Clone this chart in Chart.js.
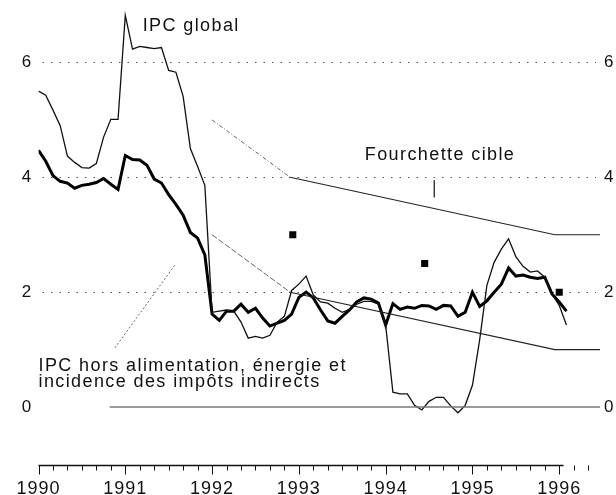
<!DOCTYPE html>
<html>
<head>
<meta charset="utf-8">
<script src="https://cdn.jsdelivr.net/npm/chart.js@4"></script>
<style>
  html, body { margin: 0; padding: 0; background: #fff; }
  canvas { display: block; }
</style>
</head>
<body>
<canvas id="chart" width="616" height="495"></canvas>
<script>
// Données mensuelles, de janvier 1990 à février 1996
const firstYear = 1990;
const ipcGlobal = [
  5.50, 5.43, 5.17, 4.90, 4.37, 4.26, 4.17, 4.16, 4.24, 4.70, 5.01, 5.01,
  6.82, 6.23, 6.28, 6.26, 6.24, 6.26, 5.86, 5.83, 5.41, 4.50, 4.19, 3.86,
  1.65, 1.67, 1.69, 1.67, 1.48, 1.20, 1.23, 1.20, 1.25, 1.48, 1.58, 2.03,
  2.14, 2.28, 1.95, 1.83, 1.81, 1.72, 1.65, 1.70, 1.79, 1.84, 1.84, 1.79,
  1.43, 0.26, 0.23, 0.23, 0.03, -0.05, 0.10, 0.17, 0.17, 0.02, -0.10, 0.03,
  0.38, 1.17, 2.12, 2.52, 2.75, 2.93, 2.62, 2.45, 2.35, 2.37, 2.26, 1.97,
  1.77, 1.43
];
const ipcCore = [
  4.47, 4.28, 4.03, 3.93, 3.90, 3.81, 3.86, 3.88, 3.91, 3.98, 3.88, 3.79,
  4.38, 4.31, 4.30, 4.21, 3.97, 3.90, 3.70, 3.53, 3.34, 3.04, 2.94, 2.65,
  1.62, 1.51, 1.67, 1.67, 1.79, 1.65, 1.72, 1.55, 1.41, 1.46, 1.51, 1.62,
  1.91, 2.00, 1.90, 1.69, 1.50, 1.46, 1.58, 1.69, 1.83, 1.90, 1.88, 1.81,
  1.43, 1.80, 1.70, 1.74, 1.72, 1.77, 1.76, 1.70, 1.77, 1.76, 1.58, 1.65,
  2.00, 1.75, 1.85, 2.00, 2.14, 2.42, 2.28, 2.30, 2.26, 2.24, 2.26, 1.97,
  1.83, 1.67
];

// Fourchette cible et points médians
const bandYears = [1992.0, 1992.9, 1995.95, 1996.47];
const bandUpper = [5, 4, 3, 3];
const bandLower = [3, 2, 1, 1];
const targetYears = [1992.93, 1994.45, 1996.0];
const targetMid = [3, 2.5, 2];

// Axes
const yTicks = [0, 2, 4, 6];
const xYears = [1990, 1991, 1992, 1993, 1994, 1995, 1996];
const xMin = 1990, xMax = 1996.47;

// Lignes de renvoi des étiquettes
const zeroLine = [[1990.82, 0], [1996.47, 0]];
const corePointer = [[1990.88, 1.03], [1991.57, 2.47]];
const bandPointer = [[1994.56, 3.95], [1994.56, 3.65]];

const monthly = vals => vals.map((v, i) => ({ x: firstYear + i / 12, y: v }));
const pairs = arr => arr.map(p => ({ x: p[0], y: p[1] }));
const band = (vals, from, to) =>
  bandYears.slice(from, to).map((t, i) => ({ x: t, y: vals[from + i] }));

const FONT = '"Liberation Sans", Arial, Helvetica, sans-serif';

function txt(ctx, s, px, py, size, align) {
  ctx.font = size + 'px ' + FONT;
  ctx.textAlign = align || 'left';
  ctx.fillText(s, px, py);
}

const decor = {
  id: 'decor',
  beforeDatasetsDraw(chart) {
    const { ctx, chartArea: a } = chart;
    const x = chart.scales.x, y = chart.scales.y;
    ctx.save();
    // grille pointillée
    ctx.strokeStyle = '#555';
    ctx.lineWidth = 1;
    ctx.setLineDash([1.5, 7]);
    yTicks.filter(v => v > 0).forEach(v => {
      const py = Math.round(y.getPixelForValue(v)) + 0.5;
      ctx.beginPath();
      ctx.moveTo(a.left + 4, py);
      ctx.lineTo(a.right - 4, py);
      ctx.stroke();
    });
    ctx.setLineDash([]);
    // axe du bas
    const by = Math.round(y.getPixelForValue(-1)) + 0.5;
    ctx.strokeStyle = '#111';
    ctx.lineWidth = 1.5;
    ctx.beginPath();
    ctx.moveTo(a.left, by);
    ctx.lineTo(x.getPixelForValue(1996.05), by);
    ctx.stroke();
    ctx.lineWidth = 1;
    for (let m = 0; m <= 76; m += 2) {
      const px = Math.round(x.getPixelForValue(firstYear + m / 12)) + 0.5;
      const len = m % 12 === 0 ? 9 : 5;
      ctx.beginPath();
      ctx.moveTo(px, by);
      ctx.lineTo(px, by + len);
      ctx.stroke();
    }
    ctx.restore();
  },
  afterDatasetsDraw(chart) {
    const { ctx, chartArea: a } = chart;
    const x = chart.scales.x, y = chart.scales.y;
    ctx.save();
    ctx.fillStyle = '#111';
    if ('letterSpacing' in ctx) ctx.letterSpacing = '0px';
    // graduations verticales, des deux côtés
    ctx.textBaseline = 'middle';
    yTicks.forEach(v => {
      const py = y.getPixelForValue(v);
      txt(ctx, String(v), a.left - 12, py, 17, 'center');
      txt(ctx, String(v), a.right + 4, py, 17, 'left');
    });
    // années
    ctx.textBaseline = 'alphabetic';
    if ('letterSpacing' in ctx) ctx.letterSpacing = '1px';
    xYears.forEach(t => {
      txt(ctx, String(t), x.getPixelForValue(t), 494, 18, 'center');
    });
    // étiquettes
    if ('letterSpacing' in ctx) ctx.letterSpacing = '1.4px';
    txt(ctx, 'IPC global', x.getPixelForValue(1991.2), y.getPixelForValue(6.54), 18);
    txt(ctx, 'Fourchette cible', x.getPixelForValue(1993.76), y.getPixelForValue(4.31), 18);
    txt(ctx, 'IPC hors alimentation, énergie et', x.getPixelForValue(1990.0), y.getPixelForValue(0.63), 18);
    txt(ctx, 'incidence des impôts indirects', x.getPixelForValue(1990.0), y.getPixelForValue(0.35), 18);
    ctx.restore();
  }
};

const thinLine = (data, color, width, dash) => ({
  type: 'line', data, borderColor: color, borderWidth: width,
  borderDash: dash || [], pointRadius: 0, tension: 0, fill: false
});

new Chart(document.getElementById('chart'), {
  type: 'line',
  data: {
    datasets: [
      thinLine(pairs(zeroLine), '#777', 1.5),
      thinLine(band(bandUpper, 0, 2), '#666', 1, [4, 2, 1, 2]),
      thinLine(band(bandUpper, 1, 4), '#222', 1.1),
      thinLine(band(bandLower, 0, 2), '#666', 1, [6, 2]),
      thinLine(band(bandLower, 1, 4), '#222', 1.1),
      thinLine(pairs(corePointer), '#666', 1, [2, 2]),
      thinLine(pairs(bandPointer), '#111', 1.2),
      thinLine(monthly(ipcGlobal), '#111', 1.3),
      thinLine(monthly(ipcCore), '#000', 3),
      {
        type: 'scatter',
        data: targetYears.map((t, i) => ({ x: t, y: targetMid[i] })),
        pointStyle: 'rect', pointRadius: 5,
        backgroundColor: '#000', borderColor: '#000', borderWidth: 0
      }
    ]
  },
  options: {
    responsive: false,
    animation: false,
    layout: { padding: { left: 38.5, right: 16, top: 4.5, bottom: 30.5 } },
    scales: {
      x: { type: 'linear', min: xMin, max: xMax, display: false },
      y: { type: 'linear', min: -1, max: 7, display: false }
    },
    plugins: { legend: { display: false }, tooltip: { enabled: false } }
  },
  plugins: [decor]
});
</script>
</body>
</html>
